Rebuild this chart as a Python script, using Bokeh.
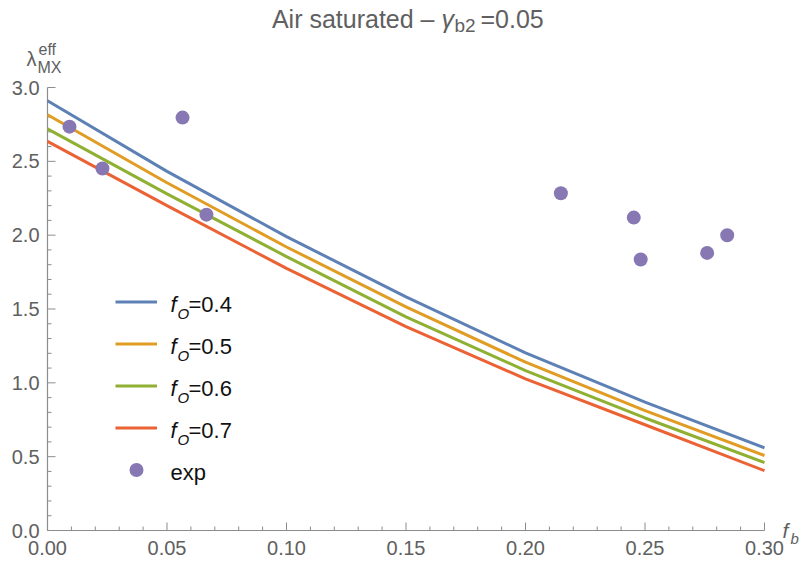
from bokeh.plotting import figure
from bokeh.models import ColumnDataSource, Legend, LegendItem, Range1d
from bokeh.core.properties import value
from bokeh.embed import file_html
from bokeh.resources import INLINE

# ---------------- data ----------------
f_b = [0.0, 0.05, 0.10, 0.15, 0.20, 0.25, 0.30]
lam_fo04 = [2.91, 2.432, 1.99, 1.582, 1.203, 0.87, 0.56]
lam_fo05 = [2.815, 2.355, 1.92, 1.515, 1.14, 0.812, 0.508]
lam_fo06 = [2.72, 2.28, 1.855, 1.447, 1.083, 0.762, 0.46]
lam_fo07 = [2.635, 2.20, 1.775, 1.38, 1.027, 0.716, 0.405]
series_names = ["0.4", "0.5", "0.6", "0.7"]

exp_x = [0.0092, 0.023, 0.0565, 0.0665, 0.2148, 0.2453, 0.2482, 0.276, 0.2844]
exp_y = [2.735, 2.451, 2.796, 2.139, 2.284, 2.119, 1.835, 1.880, 1.999]

x_major = [0.0, 0.05, 0.10, 0.15, 0.20, 0.25, 0.30]
x_labels = ["0.00", "0.05", "0.10", "0.15", "0.20", "0.25", "0.30"]
x_minor = [0.01, 0.02, 0.03, 0.04, 0.06, 0.07, 0.08, 0.09, 0.11, 0.12, 0.13, 0.14,
           0.16, 0.17, 0.18, 0.19, 0.21, 0.22, 0.23, 0.24, 0.26, 0.27, 0.28, 0.29]
y_major = [0.0, 0.5, 1.0, 1.5, 2.0, 2.5, 3.0]
y_labels = ["0.0", "0.5", "1.0", "1.5", "2.0", "2.5", "3.0"]
y_minor = [0.1, 0.2, 0.3, 0.4, 0.6, 0.7, 0.8, 0.9, 1.1, 1.2, 1.3, 1.4, 1.6, 1.7,
           1.8, 1.9, 2.1, 2.2, 2.3, 2.4, 2.6, 2.7, 2.8, 2.9]

x_axis_span = (0.0, 0.30)
y_axis_span = (0.0, 3.0)

colors = ["#5E81B5", "#E19C24", "#8FB032", "#EB6235"]
point_color = "#8778B3"
FONT = "Liberation Sans"
TXT = "#606060"
AX = "#8c8c8c"
LEG = "#111111"

# ---------------- layout (page pixels) ----------------
W, H = 801, 569
FL, FR, FT, FB = 47, 764, 87, 530   # where the axis spans sit on the page
kx = (FR - FL) / (x_axis_span[1] - x_axis_span[0])
ky = (FB - FT) / (y_axis_span[1] - y_axis_span[0])
X0 = x_axis_span[0] - FL / kx
X1 = X0 + W / kx
Y0 = y_axis_span[0] - (H - FB) / ky
Y1 = Y0 + H / ky

p = figure(width=W, height=H, min_border=0,
           x_range=Range1d(X0, X1), y_range=Range1d(Y0, Y1),
           x_axis_location=None, y_axis_location=None,
           output_backend="svg", toolbar_location=None, title=None)
p.outline_line_color = None
p.xgrid.visible = False
p.ygrid.visible = False
p.background_fill_color = "white"
p.border_fill_color = "white"


def px2x(px):
    return X0 + px / kx


def py2y(py):
    return Y0 + (H - py) / ky


# ---------------- axes (drawn through the plot scales) ----------------
p.segment(x0=[x_axis_span[0]], y0=[0.0], x1=[x_axis_span[1]], y1=[0.0],
          line_color=AX, line_width=1.2)
p.segment(x0=[0.0], y0=[y_axis_span[0]], x1=[0.0], y1=[y_axis_span[1]],
          line_color=AX, line_width=1.2)
p.segment(x0=x_major, y0=[0.0] * len(x_major), x1=x_major, y1=[8 / ky] * len(x_major),
          line_color=AX, line_width=1)
p.segment(x0=x_minor, y0=[0.0] * len(x_minor), x1=x_minor, y1=[4 / ky] * len(x_minor),
          line_color=AX, line_width=1)
p.segment(x0=[0.0] * len(y_major), y0=y_major, x1=[8 / kx] * len(y_major), y1=y_major,
          line_color=AX, line_width=1)
p.segment(x0=[0.0] * len(y_minor), y0=y_minor, x1=[4 / kx] * len(y_minor), y1=y_minor,
          line_color=AX, line_width=1)

p.text(x=x_major, y=[0.0] * len(x_major), text=x_labels, y_offset=10,
       text_align="center", text_baseline="top", text_font=value(FONT),
       text_font_size="20px", text_color=TXT)
p.text(x=[0.0] * len(y_major), y=y_major, text=y_labels, x_offset=-8,
       text_align="right", text_baseline="middle", text_font=value(FONT),
       text_font_size="20px", text_color=TXT)

# ---------------- curves & points ----------------
src = ColumnDataSource(dict(x=f_b, a=lam_fo04, b=lam_fo05, c=lam_fo06, d=lam_fo07))
renderers = []
for col, c in zip(["a", "b", "c", "d"], colors):
    renderers.append(p.line("x", col, source=src, line_color=c, line_width=3))

psrc = ColumnDataSource(dict(x=exp_x, y=exp_y))
renderers.append(p.scatter("x", "y", source=psrc, size=14, fill_color=point_color,
                           line_color=point_color, line_width=0))

# ---------------- legend ----------------
items = [LegendItem(label=" ", renderers=[r]) for r in renderers]
legend = Legend(items=items, location=(115, 82), orientation="vertical",
                glyph_width=42, glyph_height=35, spacing=7, padding=0, margin=0,
                label_width=1, label_height=10, label_text_font_size="2px",
                border_line_color=None, background_fill_alpha=0)
p.add_layout(legend, "center")


def txt(text, px, py, size, color=TXT, style="normal", align="left"):
    """py is the vertical middle of the text line."""
    p.text(x=[px2x(px)], y=[py2y(py)], text=[text], text_font=value(FONT),
           text_font_size=f"{size}px", text_color=color, text_font_style=style,
           text_align=align, text_baseline="middle")


row_centers = [301, 343, 385, 427]
for name, yc in zip(series_names, row_centers):
    txt("f", 170, yc + 3, 22, color=LEG, style="italic")
    txt("O", 177, yc + 12, 15, color=LEG, style="italic")
    txt("=" + name, 188, yc + 3, 22, color=LEG)
txt("exp", 170, 472, 22, color=LEG)

# ---------------- title ----------------
txt("Air saturated \u2013", 434, 18, 25, align="right")
txt("\u03b3", 441, 18, 25, style="italic")
txt("b2", 454, 25, 19)
txt("=0.05", 480, 18, 25)

# ---------------- axis labels ----------------
txt("\u03bb", 26, 58, 20)
txt("eff", 38, 49, 16)
txt("MX", 37, 67, 16)
txt("f", 782, 530, 21, style="italic")
txt("b", 790, 538, 15, style="italic")

open("out.html", "w").write(file_html(p, INLINE))
